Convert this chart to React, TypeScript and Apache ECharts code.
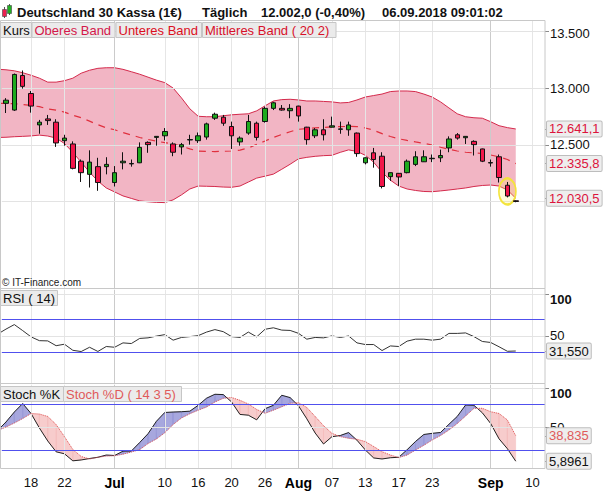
import React, { useEffect, useRef } from "react";
import * as echarts from "echarts";

// ---------- DATA ----------
// trading days shown on the axis (Jun 13 .. Sep 11)
const categories = [
  "06-13", "06-14", "06-15", "06-18", "06-19", "06-20", "06-21", "06-22", "06-25", "06-26", "06-27", "06-28", "06-29",
  "07-02", "07-03", "07-04", "07-05", "07-06", "07-09", "07-10", "07-11", "07-12", "07-13", "07-16", "07-17", "07-18", "07-19", "07-20",
  "07-23", "07-24", "07-25", "07-26", "07-27", "07-30", "07-31",
  "08-01", "08-02", "08-03", "08-06", "08-07", "08-08", "08-09", "08-10", "08-13", "08-14", "08-15", "08-16", "08-17",
  "08-20", "08-21", "08-22", "08-23", "08-24", "08-27", "08-28", "08-29", "08-30", "08-31",
  "09-03", "09-04", "09-05", "09-06", "09-07", "09-10", "09-11",
];
// indicator lines start one trading day earlier (Jun 12), partly cut off at the left edge
const indicatorStart = "06-12";
const xTickDates = ["06-18", "06-22", "07-02", "07-10", "07-16", "07-20", "07-26", "08-01", "08-07", "08-13", "08-17", "08-23", "09-03", "09-10"];
const xTickLabels = ["18", "22", "Jul", "10", "16", "20", "26", "Aug", "07", "13", "17", "23", "Sep", "10"];
const monthTickDates = ["07-02", "08-01", "09-03"];

// [open, high, low, close] for Jun 13 .. Sep 6
const ohlc = [
  [12867, 12913, 12782, 12895], [12808, 13130, 12800, 13122], [13113, 13157, 12997, 13017], [12954, 12976, 12785, 12843],
  [12677, 12721, 12599, 12701], [12730, 12765, 12677, 12715], [12701, 12727, 12483, 12518], [12538, 12590, 12494, 12561],
  [12509, 12532, 12285, 12294], [12357, 12372, 12174, 12256], [12241, 12453, 12125, 12349], [12309, 12387, 12096, 12169],
  [12309, 12392, 12241, 12329], [12169, 12314, 12134, 12256], [12343, 12436, 12285, 12357], [12333, 12372, 12309, 12337],
  [12343, 12523, 12340, 12479], [12523, 12532, 12431, 12503], [12567, 12578, 12494, 12576], [12581, 12649, 12540, 12619],
  [12509, 12523, 12401, 12436], [12483, 12518, 12416, 12503], [12544, 12590, 12503, 12548], [12538, 12610, 12518, 12581],
  [12570, 12697, 12547, 12686], [12736, 12785, 12721, 12771], [12745, 12765, 12669, 12692], [12663, 12706, 12465, 12581],
  [12527, 12576, 12494, 12561], [12605, 12765, 12590, 12707], [12692, 12706, 12540, 12567], [12707, 12837, 12697, 12823],
  [12823, 12881, 12808, 12872], [12823, 12852, 12802, 12808], [12802, 12860, 12736, 12823], [12843, 12846, 12706, 12756],
  [12657, 12660, 12503, 12547], [12581, 12649, 12561, 12634], [12634, 12727, 12540, 12590], [12657, 12750, 12655, 12669],
  [12638, 12706, 12599, 12642], [12634, 12706, 12581, 12677], [12605, 12610, 12396, 12424], [12343, 12390, 12329, 12387],
  [12431, 12474, 12300, 12372], [12401, 12436, 12117, 12134], [12221, 12258, 12183, 12256], [12250, 12252, 12139, 12218],
  [12256, 12372, 12250, 12357], [12329, 12445, 12314, 12396], [12352, 12453, 12350, 12396], [12379, 12416, 12349, 12383],
  [12387, 12459, 12349, 12407], [12474, 12576, 12436, 12553], [12590, 12605, 12547, 12561], [12564, 12578, 12509, 12576],
  [12532, 12541, 12407, 12503], [12465, 12468, 12349, 12357], [12341, 12372, 12309, 12345], [12396, 12416, 12169, 12213],
  [12145, 12174, 12038, 12050], [12008, 12012, 11995, 12002],
];

// indicator series: Jun 12 .. Sep 6
const upperBand = [
  13168, 13163, 13154, 13137, 13115, 13089, 13054, 13054, 13067, 13089, 13133, 13159, 13176, 13181, 13181, 13167, 13146,
  13124, 13098, 13072, 13050, 13002, 12915, 12819, 12753, 12749, 12749, 12758, 12766, 12771, 12775, 12801, 12845, 12888,
  12900, 12903, 12897, 12888, 12888, 12884, 12880, 12871, 12875, 12897, 12923, 12936, 12949, 12971, 12976, 12976, 12971,
  12949, 12923, 12880, 12827, 12775, 12749, 12740, 12736, 12705, 12670, 12653, 12641.1,
];
const middleBand = [
  12867, 12866, 12864, 12857, 12848, 12838, 12817, 12808, 12790, 12762, 12741, 12710, 12679, 12651, 12634, 12609, 12588,
  12566, 12549, 12533, 12521, 12509, 12488, 12466, 12446, 12443, 12442, 12444, 12447, 12455, 12474, 12505, 12535, 12566,
  12593, 12617, 12638, 12645, 12650, 12655, 12660, 12662, 12664, 12662, 12650, 12630, 12600, 12575, 12555, 12540, 12527,
  12515, 12500, 12480, 12462, 12447, 12436, 12430, 12425, 12412, 12395, 12372, 12335.8,
];
const lowerBand = [
  12566, 12568, 12573, 12576, 12580, 12587, 12579, 12561, 12513, 12435, 12348, 12260, 12182, 12121, 12086, 12051, 12029,
  12007, 11999, 11994, 11992, 12016, 12060, 12112, 12138, 12136, 12134, 12129, 12127, 12138, 12173, 12208, 12225, 12243,
  12286, 12330, 12378, 12391, 12400, 12406, 12409, 12435, 12457, 12443, 12409, 12348, 12260, 12190, 12138, 12112, 12099,
  12090, 12088, 12095, 12103, 12112, 12121, 12134, 12143, 12147, 12138, 12103, 12030.5,
];
const rsi = [
  52.0, 58.1, 63.6, 56.3, 48.7, 44.1, 43.8, 38.0, 39.8, 32.4, 30.9, 36.1, 31.0, 37.0, 36.1, 41.4, 40.6, 46.8, 47.5, 49.6,
  51.4, 44.7, 48.0, 49.0, 50.2, 54.5, 57.5, 55.0, 49.0, 48.0, 54.5, 48.7, 57.9, 59.7, 56.9, 56.5, 53.0, 45.9, 48.0, 47.5,
  49.9, 48.0, 49.8, 41.4, 39.4, 39.4, 32.1, 37.7, 37.0, 43.5, 45.9, 45.9, 44.7, 45.9, 52.9, 52.9, 53.5, 49.0, 43.1, 41.9,
  36.7, 31.2, 31.55,
];
const stochK = [
  45.7, 56.7, 69.6, 80.6, 67.7, 48.9, 32.1, 18.1, 15.5, 6.4, 7.5, 9.4, 11.0, 13.9, 13.3, 18.9, 19.1, 30.1, 41.5, 57.6,
  69.0, 69.6, 70.0, 70.7, 78.3, 87.5, 92.6, 92.2, 82.6, 66.5, 65.5, 59.5, 73.9, 78.3, 91.3, 88.3, 77.7, 60.8, 42.4, 28.2,
  37.6, 39.2, 43.0, 33.1, 20.5, 10.1, 8.8, 10.4, 11.0, 20.8, 31.4, 40.5, 42.0, 43.1, 53.7, 63.9, 78.7, 78.3, 68.6, 54.7,
  34.9, 22.1, 5.8961,
];
const stochD = [
  45.7, 50.2, 55.4, 61.2, 67.7, 67.0, 63.8, 53.4, 37.6, 21.1, 12.0, 8.8, 11.0, 12.6, 13.0, 15.0, 17.8, 20.9, 28.8, 34.7,
  42.8, 53.4, 61.9, 67.4, 72.0, 76.1, 82.6, 87.4, 88.4, 84.8, 80.0, 72.9, 68.0, 72.0, 76.4, 80.9, 81.7, 75.5, 63.8, 51.9,
  42.0, 37.8, 35.6, 34.3, 31.3, 24.9, 18.2, 13.9, 10.6, 13.9, 20.4, 26.5, 33.4, 39.2, 46.3, 54.7, 64.5, 74.4, 74.4, 70.0,
  67.7, 59.3, 38.835,
];

const priceTicks = [13500, 13000, 12500, 12000];
const rsiTicks = [100, 50];
const rsiLevels = [70, 30];
const stochTicks = [100, 50];
const stochLevels = [80, 20];

// ---------- HELPERS ----------
const FONT = '"Liberation Sans", Arial, Helvetica, sans-serif';
const BAND_FILL = "rgba(221, 60, 100, 0.38)";
const ST_UP_FILL = "rgba(95, 95, 195, 0.55)";
const ST_DOWN_FILL = "rgba(235, 120, 120, 0.38)";
const LEVEL_COLOR = "#5050ee";

function fmtDe(v: number, dec: number): string {
  const s = v.toFixed(dec);
  const parts = s.split(".");
  const int = parts[0].replace(/\B(?=(\d{3})+(?!\d))/g, ".");
  return parts.length > 1 ? int + "," + parts[1] : int;
}
const last = (a: number[]) => a[a.length - 1];
const startOffset = indicatorStart < categories[0] ? -1 : 0;
const toXY = (arr: number[]) => arr.map((v, i) => [i + startOffset, v]);

const vLines = () =>
  xTickDates.map((d) => ({
    xAxis: categories.indexOf(d),
    lineStyle: { color: monthTickDates.includes(d) ? "#cbcbcb" : "#e6e6e6", width: 1, type: "solid" },
    label: { show: false },
  }));
const hGrid = (val: number, text: string, extra: any = {}) => ({
  yAxis: val,
  lineStyle: { color: "#e3e3e3", width: 1, type: "solid" },
  label: {
    show: text !== "",
    position: "end",
    formatter: text,
    color: "#111",
    fontSize: 13,
    fontFamily: FONT,
    distance: 5,
    ...extra,
  },
});
const valueBox = (val: number, text: string, color: string) => ({
  yAxis: val,
  lineStyle: { color: "rgba(0,0,0,0)", width: 1 },
  label: {
    show: true,
    position: "end",
    formatter: text,
    color,
    fontSize: 13,
    lineHeight: 14,
    fontFamily: FONT,
    backgroundColor: "#eeeeee",
    borderColor: "#bdbdbd",
    borderWidth: 1,
    borderRadius: 1,
    padding: [1, 2, 0, 2],
    distance: 2,
  },
});
const markLine = (data: any[]) => ({
  silent: true,
  symbol: ["none", "none"],
  animation: false,
  data,
});
const labelBox = (x: number, y: number, w: number, h: number, text: string, color: string) => ({
  type: "group",
  z: 100,
  children: [
    { type: "rect", z: 100, shape: { x, y, width: w, height: h }, style: { fill: "#ebebeb", stroke: "#c6c6c6", lineWidth: 1 } },
    {
      type: "text",
      z: 101,
      x: x + 2.5,
      y: y + h / 2 + 0.5,
      style: { text, fill: color, font: `13px ${FONT}`, verticalAlign: "middle", textVerticalAlign: "middle" },
    },
  ],
});

export default function App() {
  const ref = useRef<HTMLDivElement>(null);

  useEffect(() => {
    document.body.style.margin = "0";
    if (!ref.current) return;
    const chart = echarts.init(ref.current, null, { renderer: "svg" });

    const candleData = categories.map((_, i) => {
      const c = ohlc[i];
      return c ? [c[0], c[3], c[2], c[1]] : ["-", "-", "-", "-"];
    });

    const catAxis = (gridIndex: number, labels: boolean) => ({
      type: "category",
      gridIndex,
      position: "bottom",
      data: categories,
      boundaryGap: true,
      axisLine: { show: false, onZero: false },
      axisTick: { show: false },
      splitLine: { show: false },
      axisLabel: labels
        ? {
            show: true,
            interval: (_i: number, v: string) => xTickDates.indexOf(v) >= 0,
            formatter: (v: string) => {
              const t = xTickLabels[xTickDates.indexOf(v)];
              return monthTickDates.includes(v) ? `{m|${t}}` : t;
            },
            color: "#111",
            fontSize: 13,
            fontFamily: FONT,
            margin: 7,
            rich: { m: { fontWeight: "bold", fontSize: 14, fontFamily: FONT, color: "#000" } },
          }
        : { show: false },
    });
    const idxAxis = (gridIndex: number) => ({
      type: "value",
      gridIndex,
      position: "top",
      min: -0.5,
      max: categories.length - 0.5,
      show: false,
      axisLine: { show: false, onZero: false },
      splitLine: { show: false },
    });
    const yAxisCfg = (gridIndex: number, min: number, max: number, tickValues: number[]) => ({
      type: "value",
      gridIndex,
      position: "right",
      min,
      max,
      axisLine: { show: false, onZero: false },
      axisTick: {
        show: true,
        inside: false,
        length: 4,
        customValues: tickValues,
        lineStyle: { color: "#8a8a8a", width: 1 },
      },
      axisLabel: { show: false },
      splitLine: { show: false },
    });

    const priceGrid = priceTicks.map((t) => hGrid(t, t === 12000 ? "" : fmtDe(t, 0), t === 13500 ? { offset: [0, 2] } : {}));

    const lineBase = (xAxisIndex: number, yAxisIndex: number) => ({
      type: "line",
      xAxisIndex,
      yAxisIndex,
      symbol: "none",
      clip: false,
      silent: true,
    });

    const bandFillRender = (_p: any, api: any) => {
      const pts: number[][] = [];
      upperBand.forEach((v, i) => pts.push(api.coord([i + startOffset, v])));
      for (let i = lowerBand.length - 1; i >= 0; i--) pts.push(api.coord([i + startOffset, lowerBand[i]]));
      return { type: "polygon", shape: { points: pts }, style: { fill: BAND_FILL } };
    };
    const stochFillRender = (_p: any, api: any) => {
      const children: any[] = [];
      const poly = (pts: number[][], up: boolean) =>
        children.push({
          type: "polygon",
          shape: { points: pts.map((p) => api.coord(p)) },
          style: { fill: up ? ST_UP_FILL : ST_DOWN_FILL, stroke: up ? ST_UP_FILL : ST_DOWN_FILL, lineWidth: 0.3 },
        });
      for (let i = 0; i < stochK.length - 1; i++) {
        const x0 = i + startOffset;
        const x1 = x0 + 1;
        const k0 = stochK[i], k1 = stochK[i + 1], d0 = stochD[i], d1 = stochD[i + 1];
        const s0 = k0 - d0, s1 = k1 - d1;
        if (s0 * s1 >= 0) {
          poly([[x0, k0], [x1, k1], [x1, d1], [x0, d0]], s0 + s1 >= 0);
        } else {
          const t = s0 / (s0 - s1);
          const xc = x0 + t;
          const yc = k0 + t * (k1 - k0);
          poly([[x0, k0], [xc, yc], [x0, d0]], s0 > 0);
          poly([[xc, yc], [x1, k1], [x1, d1]], s1 > 0);
        }
      }
      return { type: "group", children };
    };
    const levelRender = (levels: number[]) => (_p: any, api: any) => ({
      type: "group",
      children: levels.map((v) => {
        const a = api.coord([-0.5, v]);
        const b = api.coord([categories.length - 0.5, v]);
        return {
          type: "line",
          z2: 10,
          shape: { x1: a[0], y1: Math.round(a[1]) + 0.5, x2: b[0], y2: Math.round(b[1]) + 0.5 },
          style: { stroke: LEVEL_COLOR, lineWidth: 1, opacity: 1 },
        };
      }),
    });

    const option: any = {
      animation: false,
      backgroundColor: "#ffffff",
      textStyle: { fontFamily: FONT },
      grid: [
        { left: 1.8, right: 60, top: 20, height: 268 },
        { left: 1.8, right: 60, top: 289.7, height: 94 },
        { left: 1.8, right: 60, top: 384.7, height: 84 },
      ],
      xAxis: [catAxis(0, false), catAxis(1, false), catAxis(2, true), idxAxis(0), idxAxis(1), idxAxis(2)],
      yAxis: [
        yAxisCfg(0, 11239, 13602, [...priceTicks.filter((t) => t !== 12000), last(upperBand), last(middleBand), last(lowerBand)]),
        yAxisCfg(1, -8.1, 105.9, [...rsiTicks, last(rsi)]),
        yAxisCfg(2, -3.8, 105, [...stochTicks, last(stochK), last(stochD)]),
      ],
      series: [
        {
          type: "custom",
          name: "bandFill",
          xAxisIndex: 3,
          yAxisIndex: 0,
          silent: true,
          z: 2,
          data: [[0, upperBand[0]]],
          encode: { x: 0, y: 1 },
          renderItem: bandFillRender,
        },
        {
          ...lineBase(3, 0),
          name: "Oberes Band",
          data: toXY(upperBand),
          lineStyle: { color: "#d42a4c", width: 1 },
          z: 3,
          markLine: markLine([...vLines(), ...priceGrid]),
        },
        {
          ...lineBase(3, 0),
          name: "Unteres Band",
          data: toXY(lowerBand),
          lineStyle: { color: "#d42a4c", width: 1 },
          z: 3,
        },
        {
          ...lineBase(3, 0),
          name: "Mittleres Band",
          data: toXY(middleBand),
          lineStyle: { color: "#e0303e", width: 1.2, type: [7, 6] },
          z: 3,
          markLine: markLine([
            valueBox(last(upperBand), fmtDe(last(upperBand), 1), "#dc143c"),
            valueBox(last(middleBand), fmtDe(last(middleBand), 1), "#dc143c"),
            valueBox(last(lowerBand), fmtDe(last(lowerBand), 1), "#dc143c"),
          ]),
        },
        {
          name: "Kurs",
          type: "candlestick",
          xAxisIndex: 0,
          yAxisIndex: 0,
          data: candleData,
          barWidth: 5,
          z: 5,
          itemStyle: {
            color: "#1eaa1e",
            color0: "#f2164a",
            borderColor: "#111111",
            borderColor0: "#111111",
            borderWidth: 1,
          },
          markPoint: {
            symbol: "circle",
            symbolSize: [17, 26],
            silent: true,
            data: [{ coord: ["09-05", 12090] }],
            itemStyle: { color: "rgba(255, 240, 90, 0.22)", borderColor: "#f3e43c", borderWidth: 2 },
            label: { show: false },
          },
        },
        {
          ...lineBase(4, 1),
          name: "rsiGrid",
          data: toXY(rsi),
          lineStyle: { color: "rgba(0,0,0,0)", width: 0 },
          z: 2,
          markLine: markLine([
            ...vLines(),
            hGrid(rsiTicks[0], String(rsiTicks[0]), { fontWeight: "bold", offset: [0, 5] }),
            hGrid(rsiTicks[1], String(rsiTicks[1])),
          ]),
        },
        {
          ...lineBase(4, 1),
          name: "RSI",
          data: toXY(rsi),
          lineStyle: { color: "#333333", width: 1 },
          z: 4,
          markLine: markLine([valueBox(last(rsi), fmtDe(last(rsi), 3), "#111111")]),
        },
        {
          type: "custom",
          name: "rsiLevels",
          xAxisIndex: 4,
          yAxisIndex: 1,
          silent: true,
          z: 10,
          data: [[0, rsiLevels[0]]],
          encode: { x: 0, y: 1 },
          renderItem: levelRender(rsiLevels),
        },
        {
          type: "custom",
          name: "stochFill",
          xAxisIndex: 5,
          yAxisIndex: 2,
          silent: true,
          z: 2,
          data: [[0, stochK[0]]],
          encode: { x: 0, y: 1 },
          renderItem: stochFillRender,
        },
        {
          ...lineBase(5, 2),
          name: "Stoch %K",
          data: toXY(stochK),
          lineStyle: { color: "#222222", width: 1 },
          z: 4,
          markLine: markLine([
            ...vLines(),
            hGrid(stochTicks[0], String(stochTicks[0]), { fontWeight: "bold", offset: [0, 5] }),
            hGrid(stochTicks[1], String(stochTicks[1])),
            valueBox(last(stochK), fmtDe(last(stochK), 4), "#111111"),
          ]),
        },
        {
          ...lineBase(5, 2),
          name: "Stoch %D",
          data: toXY(stochD),
          lineStyle: { color: "#e05555", width: 1, type: "dotted" },
          z: 5,
          markLine: markLine([valueBox(last(stochD), fmtDe(last(stochD), 3), "#e05a5a")]),
        },
        {
          type: "custom",
          name: "stochLevels",
          xAxisIndex: 5,
          yAxisIndex: 2,
          silent: true,
          z: 10,
          data: [[0, stochLevels[0]]],
          encode: { x: 0, y: 1 },
          renderItem: levelRender(stochLevels),
        },
      ],
      graphic: [
        // panel borders
        { type: "rect", silent: true, z: 50, shape: { x: 0.5, y: 20.5, width: 544.5, height: 268 }, style: { fill: "none", stroke: "#c8c8c8", lineWidth: 1 } },
        { type: "rect", silent: true, z: 50, shape: { x: 0.5, y: 288.5, width: 544.5, height: 95 }, style: { fill: "none", stroke: "#c8c8c8", lineWidth: 1 } },
        { type: "rect", silent: true, z: 50, shape: { x: 0.5, y: 383.5, width: 544.5, height: 85 }, style: { fill: "none", stroke: "#c8c8c8", lineWidth: 1 } },
        // title icon
        { type: "line", z: 100, shape: { x1: 4.5, y1: 7, x2: 4.5, y2: 18 }, style: { stroke: "#555", lineWidth: 1 } },
        { type: "rect", z: 101, shape: { x: 2.5, y: 9.5, width: 4, height: 7 }, style: { fill: "#ee2050", stroke: "#444", lineWidth: 0.6 } },
        { type: "line", z: 100, shape: { x1: 9.5, y1: 4, x2: 9.5, y2: 15 }, style: { stroke: "#555", lineWidth: 1 } },
        { type: "rect", z: 101, shape: { x: 7.5, y: 5.5, width: 4, height: 8 }, style: { fill: "#22b022", stroke: "#444", lineWidth: 0.6 } },
        // title texts
        { type: "text", z: 100, x: 17, y: 12.5, style: { text: "Deutschland 30 Kassa (1€)", fill: "#111", font: `bold 13px ${FONT}`, verticalAlign: "middle", textVerticalAlign: "middle" } },
        { type: "text", z: 100, x: 202, y: 12.5, style: { text: "Täglich", fill: "#111", font: `bold 13px ${FONT}`, verticalAlign: "middle", textVerticalAlign: "middle" } },
        { type: "text", z: 100, x: 261, y: 12.5, style: { text: "12.002,0 (-0,40%)", fill: "#111", font: `bold 13px ${FONT}`, verticalAlign: "middle", textVerticalAlign: "middle" } },
        { type: "text", z: 100, x: 382, y: 12.5, style: { text: "06.09.2018 09:01:02", fill: "#111", font: `bold 13px ${FONT}`, verticalAlign: "middle", textVerticalAlign: "middle" } },
        // legends
        labelBox(0.5, 22.5, 31, 15, "Kurs", "#111111"),
        labelBox(32, 22.5, 83, 15, "Oberes Band", "#d4184a"),
        labelBox(116, 22.5, 85.5, 15, "Unteres Band", "#dc0f1e"),
        labelBox(202.5, 22.5, 133.5, 15, "Mittleres Band ( 20 2)", "#d8102a"),
        labelBox(0.5, 290.5, 57, 15, "RSI ( 14)", "#111111"),
        labelBox(0.5, 386.5, 63, 15, "Stoch %K", "#111111"),
        labelBox(63.5, 386.5, 118, 15, "Stoch %D ( 14 3 5)", "#e05a5a"),
        { type: "text", z: 100, x: 2, y: 282.5, style: { text: "© IT-Finance.com", fill: "#222", font: `10px ${FONT}`, verticalAlign: "middle", textVerticalAlign: "middle" } },
      ],
    };

    chart.setOption(option);
    return () => chart.dispose();
  }, []);

  return (
    <div
      ref={ref}
      style={{ position: "absolute", left: 0, top: 0, width: 605, height: 494, background: "#fff" }}
    />
  );
}
